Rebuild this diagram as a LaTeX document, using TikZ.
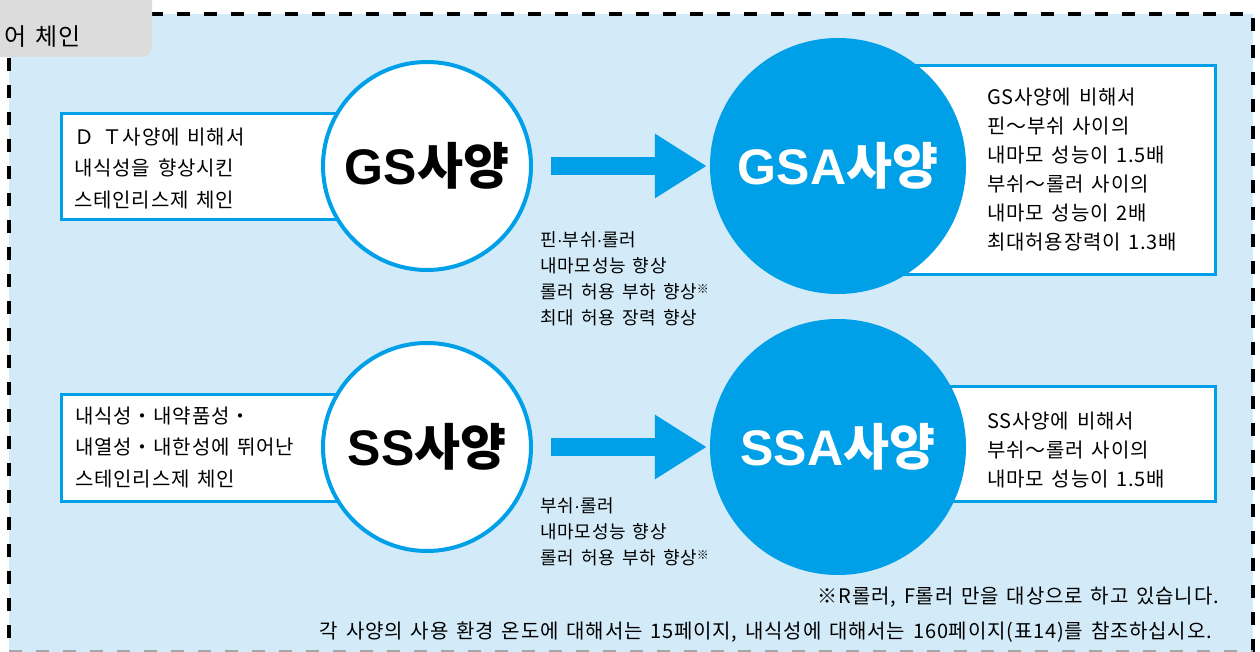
\documentclass[tikz,border=0pt]{standalone}
\usepackage{fontspec}
\setmainfont{Noto Sans CJK KR}[WordSpace=1.5, LetterSpace=4]
\newfontfamily\latinbold{Liberation Sans}[BoldFont={Liberation Sans Bold}]
\newfontfamily\hangulbold{Noto Sans CJK KR}
\newfontfamily\dotfont{Liberation Sans}
\usetikzlibrary{arrows.meta}
\definecolor{cblue}{HTML}{00A0E9}
\definecolor{cbg}{HTML}{D3EBF9}
\definecolor{ctab}{HTML}{DCDCDC}
\newcommand{\kome}{\raisebox{0.55ex}{\fontsize{12}{12}\selectfont ※}}
\newcommand{\mdot}{{\dotfont ·}}
\newcommand{\bigname}[2]{{\latinbold\bfseries #1}{\hangulbold\bfseries #2}}
\tikzset{
  sidebox/.style={rectangle, draw=cblue, line width=3pt, fill=white, inner sep=0pt, anchor=north west},
  ring/.style={circle, draw=cblue, line width=4pt, fill=white, minimum size=208pt, inner sep=0pt,
    font=\fontsize{50}{50}\selectfont},
  disc/.style={circle, fill=cblue, minimum size=256pt, inner sep=0pt, text=white,
    font=\fontsize{50}{50}\selectfont},
  bigarrow/.style={draw=cblue, line width=18pt, -{Triangle[length=52pt,width=61pt]}},
  boxtxt/.style={inner sep=0pt, align=left, anchor=west, font=\fontsize{20}{31.5}\selectfont},
  spectxt/.style={inner sep=0pt, align=left, anchor=west, font=\fontsize{20}{29}\selectfont},
  midtxt/.style={inner sep=0pt, align=left, anchor=west, font=\fontsize{18}{26}\selectfont},
  notetxt/.style={inner sep=0pt, anchor=east, font=\fontsize{20}{24}\selectfont},
  tabtxt/.style={inner sep=0pt, anchor=east, font=\fontsize{24}{28}\selectfont},
  frame/.style={line width=4.5pt, dash pattern=on 13pt off 14pt},
}
\begin{document}
\begin{tikzpicture}[x=1pt,y=-1pt]
\useasboundingbox (0,0) rectangle (1260,652);
% background panel
\fill[cbg] (9,14) rectangle (1253,660);
% dashed frame
\draw[frame] (150,14) -- (1253,14) -- (1253,660);
\draw[frame] (9,58) -- (9,660);
\draw[gray!70, line width=2pt, dash pattern=on 13pt off 14pt] (9,651) -- (1253,651);
% tab
\fill[ctab, rounded corners=10pt] (-20,-20) rectangle (152,57);
\node[tabtxt] (tab) at (81,37) {어 체인};

% ---- upper row ----
\node[sidebox, minimum width=300pt, minimum height=106pt] (boxdt) at (60,112) {};
\node[boxtxt] (tdt) at (74,168.5) {Ｄ Ｔ사양에 비해서\\내식성을 향상시킨\\스테인리스제 체인};
\node[sidebox, minimum width=334pt, minimum height=209pt] (boxgsa) at (880,64) {};
\node[ring] (gs) at (427,166) {\bigname{GS}{사양}};
\node[disc] (gsa) at (838,166) {\bigname{GSA}{사양}};
\draw[bigarrow] ([xshift=18pt]gs.east) -- ([xshift=-3pt]gsa.west);
\node[spectxt] (tgsa) at (987,169.5) {GS사양에 비해서\\핀～부쉬 사이의\\내마모 성능이 1.5배\\부쉬～롤러 사이의\\내마모 성능이 2배\\최대허용장력이 1.3배};
\node[midtxt] (mgs) at (540,279) {핀\mdot 부쉬\mdot 롤러\\내마모성능 향상\\롤러 허용 부하 향상\kome\\최대 허용 장력 향상};

% ---- lower row ----
\node[sidebox, minimum width=300pt, minimum height=107pt] (boxss) at (60,393) {};
\node[boxtxt] (tss) at (75,447.5) {내식성・내약품성・\\내열성・내한성에 뛰어난\\스테인리스제 체인};
\node[sidebox, minimum width=334pt, minimum height=115pt] (boxssa) at (880,385) {};
\node[ring] (ss) at (427,447) {\bigname{SS}{사양}};
\node[disc] (ssa) at (838,447) {\bigname{SSA}{사양}};
\draw[bigarrow] ([xshift=18pt]ss.east) -- ([xshift=-3pt]ssa.west);
\node[spectxt] (tssa) at (987,450) {SS사양에 비해서\\부쉬～롤러 사이의\\내마모 성능이 1.5배};
\node[midtxt] (mss) at (540,532) {부쉬\mdot 롤러\\내마모성능 향상\\롤러 허용 부하 향상\kome};

% ---- notes ----
\node[notetxt] (n1) at (1219,597) {※R롤러, F롤러 만을 대상으로 하고 있습니다.};
\node[notetxt] (n2) at (1212,632) {각 사양의 사용 환경 온도에 대해서는 15페이지, 내식성에 대해서는 160페이지(표14)를 참조하십시오.};
\end{tikzpicture}
\end{document}
